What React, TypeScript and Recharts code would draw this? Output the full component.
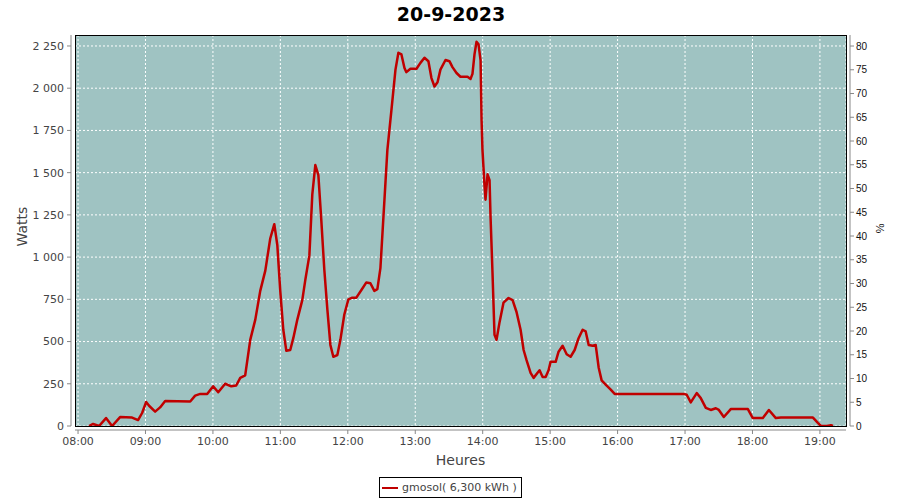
import React from 'react';
import { LineChart, Line, XAxis, YAxis, CartesianGrid, ReferenceArea } from 'recharts';

// minutes since midnight
const minutes = [
  489.8, 493.4, 498.7, 504.9, 510.3, 517.4, 528.1, 533.4, 537.0, 540.6,
  543.2, 548.6, 553.0, 557.5, 579.8, 584.2, 588.7, 594.9, 600.2, 604.7,
  610.9, 616.3, 620.7, 624.3, 628.7, 633.2, 637.7, 642.1, 646.6, 651.0,
  654.6, 657.3, 659.9, 662.6, 665.3, 668.8, 671.5, 675.1, 679.5, 682.2,
  685.8, 688.4, 691.1, 693.8, 696.4, 699.1, 701.8, 704.5, 707.1, 710.7,
  713.4, 716.9, 720.5, 724.0, 727.6, 732.1, 736.5, 740.1, 743.6, 746.3,
  749.0, 752.6, 755.2, 758.8, 762.4, 765.0, 767.7, 770.4, 772.1, 775.7,
  781.1, 784.6, 788.2, 791.7, 794.4, 797.1, 799.8, 802.4, 806.9, 810.4,
  813.1, 816.7, 820.2, 826.5, 829.2, 830.9, 832.7, 834.5, 836.3, 838.1,
  839.0, 839.8, 841.6, 842.5, 844.3, 846.1, 847.0, 848.7, 850.5, 852.3,
  855.0, 858.5, 863.0, 866.6, 870.1, 873.7, 876.4, 879.0, 882.6, 885.3,
  888.8, 890.6, 893.3, 896.0, 898.6, 900.4, 904.9, 907.5, 911.1, 914.7,
  918.2, 921.8, 925.3, 928.9, 931.6, 934.3, 937.8, 940.5, 943.2, 945.8,
  949.4, 953.9, 957.4, 1018.9, 1021.5, 1025.1, 1030.4, 1034.0, 1038.5, 1042.9,
  1047.4, 1050.1, 1054.5, 1060.7, 1075.9, 1080.3, 1089.2, 1094.6, 1100.8, 1105.3,
  1133.8, 1138.2, 1140.9, 1146.2, 1149.8, 1151.6,
];

const watts = [
  0, 12, 0, 47, 0, 53, 50, 35, 77, 142,
  120, 85, 110, 148, 145, 180, 190, 190, 235, 200,
  250, 235, 240, 285, 300, 510, 630, 800, 920, 1110,
  1195, 1070, 800, 570, 445, 450, 520, 630, 745, 865,
  1010, 1370, 1545, 1485, 1220, 925, 690, 480, 410, 420,
  510, 660, 750, 760, 760, 805, 850, 845, 800, 810,
  935, 1340, 1635, 1870, 2110, 2210, 2200, 2120, 2095, 2115,
  2115, 2150, 2180, 2160, 2060, 2010, 2035, 2110, 2167, 2160,
  2125, 2090, 2068, 2068, 2055, 2085, 2200, 2275, 2260, 2165,
  1810, 1635, 1425, 1340, 1490, 1455, 1235, 910, 540, 510,
  615, 730, 758, 745, 675, 570, 450, 390, 315, 285,
  315, 330, 290, 290, 330, 380, 380, 440, 475, 425,
  410, 450, 520, 570, 560, 480, 475, 480, 345, 270,
  245, 215, 190, 190, 185, 140, 195, 165, 107, 95,
  105, 95, 53, 100, 100, 47, 47, 95, 47, 50,
  50, 18, 0, 0, 5, 0,
];

const timeTicks = [480, 540, 600, 660, 720, 780, 840, 900, 960, 1020, 1080, 1140];
const wattTicks = [0, 250, 500, 750, 1000, 1250, 1500, 1750, 2000, 2250];
const pctTicks = [0, 5, 10, 15, 20, 25, 30, 35, 40, 45, 50, 55, 60, 65, 70, 75, 80];

const X_MIN = 477.3;
const X_MAX = 1163.2;
const W_MAX = 2315;
const P_MAX = 82.32;

const title = '20-9-2023';
const legendLabel = 'gmosol( 6,300 kWh )';

const data = minutes.map((t, i) => ({ t, w: watts[i] }));

const FONT = '"DejaVu Sans", sans-serif';
const LINE_COLOR = '#c00000';
const AXIS_COLOR = '#888888';

const fmtTime = (m: number) => {
  const h = Math.floor(m / 60);
  const mm = Math.round(m % 60);
  return `${String(h).padStart(2, '0')}:${String(mm).padStart(2, '0')}`;
};
const fmtWatt = (n: number) =>
  n >= 1000 ? `${Math.floor(n / 1000)} ${String(n % 1000).padStart(3, '0')}` : String(n);

const XTick = (props: any) => {
  const { x, y, payload } = props;
  return (
    <text x={x} y={y} dy="0.71em" textAnchor="middle" fill="#444" fontSize={11} fontFamily={FONT}>
      {fmtTime(payload.value)}
    </text>
  );
};
const LeftTick = (props: any) => {
  const { x, y, payload } = props;
  return (
    <text x={x} y={y} dy="0.355em" textAnchor="end" fill="#444" fontSize={11} fontFamily={FONT}>
      {fmtWatt(payload.value)}
    </text>
  );
};
const RightTick = (props: any) => {
  const { x, y, payload } = props;
  return (
    <text x={x} y={y} dy="0.355em" textAnchor="start" fill="#111" fontSize={10} fontFamily='"Liberation Sans", sans-serif'>
      {payload.value}
    </text>
  );
};

export default function App() {
  return (
    <div style={{ position: 'absolute', left: 0, top: 0, width: 900, height: 500, background: '#fff', fontFamily: FONT }}>
      <div
        style={{
          position: 'absolute', left: 0, top: 2, width: 902, textAlign: 'center',
          fontSize: 19, lineHeight: '24px', fontWeight: 'bold', color: '#000', fontFamily: FONT,
        }}
      >
        {title}
      </div>
      <LineChart width={900} height={500} data={data} margin={{ top: 35, right: 0, bottom: 0, left: 0 }}>
        <CartesianGrid
          xAxisId="t"
          yAxisId="w"
          stroke="#ffffff"
          strokeDasharray="2 2"
          fill="#9fc3c2"
          fillOpacity={1}
        />
        <XAxis
          xAxisId="t"
          dataKey="t"
          type="number"
          domain={[X_MIN, X_MAX]}
          ticks={timeTicks}
          allowDataOverflow
          height={74}
          tickSize={4}
          tickMargin={7}
          axisLine={{ stroke: AXIS_COLOR, transform: 'translate(0,4)' }}
          tickLine={{ stroke: AXIS_COLOR, transform: 'translate(0,4)' }}
          tick={<XTick />}
          interval={0}
          label={{
            content: (p: any) => {
              const vb = p.viewBox;
              return (
                <text x={vb.x + vb.width / 2} y={vb.y + 34} dy="0.355em" textAnchor="middle" fill="#444" fontSize={14} fontFamily={FONT}>
                  Heures
                </text>
              );
            },
          }}
        />
        <YAxis
          yAxisId="w"
          orientation="left"
          type="number"
          domain={[0, W_MAX]}
          ticks={wattTicks}
          allowDataOverflow
          width={75}
          tickSize={4}
          tickMargin={7}
          axisLine={{ stroke: AXIS_COLOR, transform: 'translate(-4,0)' }}
          tickLine={{ stroke: AXIS_COLOR, transform: 'translate(-4,0)' }}
          tick={<LeftTick />}
          interval={0}
          label={{
            content: (p: any) => {
              const vb = p.viewBox;
              const cx = 22;
              const cy = vb.y + vb.height / 2 - 4;
              return (
                <text x={cx} y={cy} dy="0.355em" textAnchor="middle" fill="#444" fontSize={14} fontFamily={FONT}
                  transform={`rotate(-90, ${cx}, ${cy})`}>
                  Watts
                </text>
              );
            },
          }}
        />
        <YAxis
          yAxisId="p"
          orientation="right"
          type="number"
          domain={[0, P_MAX]}
          ticks={pctTicks}
          allowDataOverflow
          width={54}
          tickSize={4}
          tickMargin={6}
          axisLine={{ stroke: AXIS_COLOR, transform: 'translate(4,0)' }}
          tickLine={{ stroke: AXIS_COLOR, transform: 'translate(4,0)' }}
          tick={<RightTick />}
          interval={0}
          label={{
            content: (p: any) => {
              const vb = p.viewBox;
              const cx = 880;
              const cy = vb.y + vb.height / 2 - 2;
              return (
                <text x={cx} y={cy} dy="0.355em" textAnchor="middle" fill="#111" fontSize={11} fontFamily='"Liberation Sans", sans-serif'
                  transform={`rotate(90, ${cx}, ${cy})`}>
                  %
                </text>
              );
            },
          }}
        />
        <Line
          xAxisId="t"
          yAxisId="w"
          type="linear"
          dataKey="w"
          stroke={LINE_COLOR}
          strokeWidth={2.5}
          strokeLinejoin="round"
          dot={false}
          activeDot={false}
          isAnimationActive={false}
        />
        <ReferenceArea
          xAxisId="t"
          yAxisId="w"
          x1={X_MIN}
          x2={X_MAX}
          y1={0}
          y2={W_MAX}
          fill="none"
          fillOpacity={0}
          stroke="#000"
          strokeWidth={1}
          shapeRendering="crispEdges"
          ifOverflow="visible"
        />
      </LineChart>
      <div
        style={{
          position: 'absolute', left: 379, top: 477, width: 143, height: 21, boxSizing: 'border-box',
          border: '1px solid #000', background: '#fff', display: 'flex', alignItems: 'center',
          fontSize: 11, color: '#444', fontFamily: FONT, whiteSpace: 'nowrap',
        }}
      >
        <span style={{ display: 'inline-block', width: 16, height: 2, background: LINE_COLOR, marginLeft: 2, marginRight: 4 }} />
        <span>{legendLabel}</span>
      </div>
    </div>
  );
}
